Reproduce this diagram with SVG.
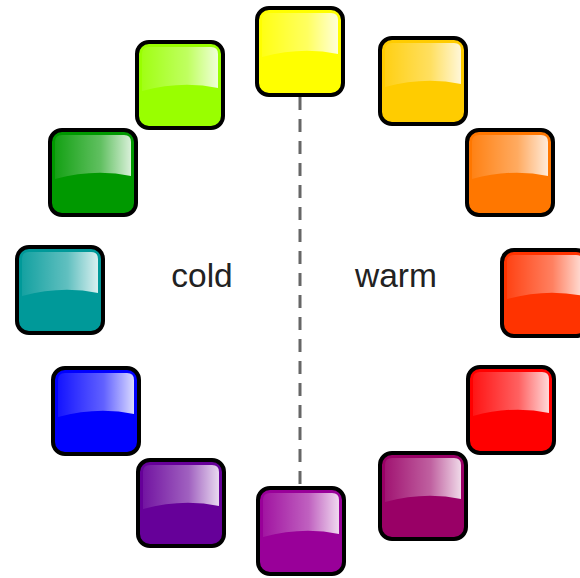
<svg xmlns="http://www.w3.org/2000/svg" xmlns:xlink="http://www.w3.org/1999/xlink" width="580" height="578" viewBox="0 0 580 578">
<defs>
<linearGradient id="gl" x1="0" y1="0" x2="1" y2="0">
<stop offset="0" stop-color="#fff" stop-opacity="0.08"/>
<stop offset="0.6" stop-color="#fff" stop-opacity="0.38"/>
<stop offset="1" stop-color="#fff" stop-opacity="0.85"/>
</linearGradient>
<g id="gloss"><path d="M5,12 Q5,5 12,5 H74 Q81,5 81,12 V46 Q45,38 5,49 Z" fill="url(#gl)"/></g>
</defs>
<style>
.tile{stroke:#000;stroke-width:4}
.lbl{font-family:"Liberation Sans",Arial,sans-serif;font-size:33.5px;fill:#222}
</style>
<rect width="580" height="578" fill="#fff"/>
<g id="connectors">
<line x1="300" y1="97" x2="300" y2="489" stroke="#666" stroke-width="3" stroke-dasharray="13 9"/>
</g>
<g id="n-yellow" transform="translate(257,8)"><rect class="tile" width="86" height="87" rx="12" fill="#FFFF00"/><use xlink:href="#gloss"/></g>
<g id="n-gold" transform="translate(380,38)"><rect class="tile" width="86" height="86" rx="12" fill="#FFCC00"/><use xlink:href="#gloss"/></g>
<g id="n-orange" transform="translate(467,130)"><rect class="tile" width="86" height="85" rx="12" fill="#FF7700"/><use xlink:href="#gloss"/></g>
<g id="n-redorange" transform="translate(502,250)"><rect class="tile" width="86" height="86" rx="12" fill="#FF3300"/><use xlink:href="#gloss"/></g>
<g id="n-red" transform="translate(468,367)"><rect class="tile" width="86" height="86" rx="12" fill="#FF0000"/><use xlink:href="#gloss"/></g>
<g id="n-wine" transform="translate(380,453)"><rect class="tile" width="86" height="86" rx="12" fill="#990066"/><use xlink:href="#gloss"/></g>
<g id="n-purple" transform="translate(258,488)"><rect class="tile" width="86" height="86" rx="12" fill="#990099"/><use xlink:href="#gloss"/></g>
<g id="n-indigo" transform="translate(138,460)"><rect class="tile" width="86" height="86" rx="12" fill="#660099"/><use xlink:href="#gloss"/></g>
<g id="n-blue" transform="translate(53,368)"><rect class="tile" width="86" height="86" rx="12" fill="#0000FF"/><use xlink:href="#gloss"/></g>
<g id="n-teal" transform="translate(17,247)"><rect class="tile" width="86" height="86" rx="12" fill="#009999"/><use xlink:href="#gloss"/></g>
<g id="n-green" transform="translate(50,130)"><rect class="tile" width="86" height="85" rx="12" fill="#009900"/><use xlink:href="#gloss"/></g>
<g id="n-lime" transform="translate(137,42)"><rect class="tile" width="86" height="86" rx="12" fill="#99FF00"/><use xlink:href="#gloss"/></g>
<text class="lbl" x="202" y="287" text-anchor="middle">cold</text>
<text class="lbl" x="396" y="287" text-anchor="middle">warm</text>
</svg>
